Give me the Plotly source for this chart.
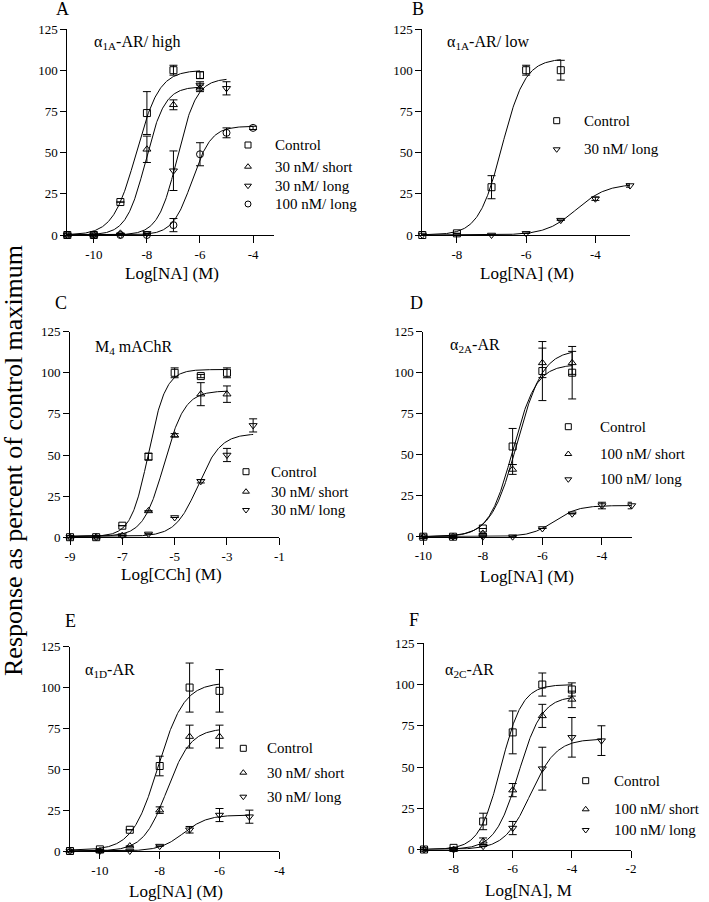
import numpy as np
import plotly.graph_objects as go

W, H = 709, 902
FONT = "Liberation Serif"

# ---------------- data ----------------
# Panel A  alpha1A-AR / high
A_ctrl_x = [-11, -10, -9, -8, -7, -6]
A_ctrl_y = [0, 0, 20, 74, 100, 97]
A_ctrl_e = [0, 0, 0, 13, 3, 2]
A_short_x = [-11, -10, -9, -8, -7, -6]
A_short_y = [0, 0, 1, 52, 79, 89]
A_short_e = [0, 0, 0, 8, 3, 2]
A_long_x = [-11, -10, -9, -8, -7, -6, -5]
A_long_y = [0, 0, 0, 1, 39, 91, 89]
A_long_e = [0, 0, 0, 0, 12, 2, 4]
A_l100_x = [-11, -10, -9, -8, -7, -6, -5, -4]
A_l100_y = [0, 0, 0, 0, 6, 49, 62, 65]
A_l100_e = [0, 0, 0, 0, 4, 7, 3, 1]
# fit parameters: bottom, top, logEC50, Hill slope
A_ctrl_fit = [0, 100, -8.4, 1.0]
A_short_fit = [0, 90, -8.05, 1.2]
A_long_fit = [0, 95, -6.85, 1.2]
A_l100_fit = [0, 66, -6.3, 1.2]

# Panel B  alpha1A-AR / low
B_ctrl_x = [-9, -8, -7, -6, -5]
B_ctrl_y = [0, 1, 29, 100, 100]
B_ctrl_e = [0, 0, 7, 3, 6]
B_long_x = [-9, -7, -6, -5, -4, -3]
B_long_y = [0, 0, 1, 9, 22, 30]
B_long_e = [0, 0, 0, 0, 1, 1]
B_ctrl_fit = [0, 107, -6.7, 1.3]
B_long_fit = [0, 31, -4.55, 1.0]

# Panel C  M4 mAChR
C_ctrl_x = [-9, -8, -7, -6, -5, -4, -3]
C_ctrl_y = [0, 0, 7, 49, 100, 98, 100]
C_ctrl_e = [0, 0, 0, 2, 3, 1, 3]
C_short_x = [-9, -8, -7, -6, -5, -4, -3]
C_short_y = [0, 0, 1, 16, 62, 87, 87]
C_short_e = [0, 0, 0, 0, 1, 7, 5]
C_long_x = [-9, -8, -7, -6, -5, -4, -3, -2]
C_long_y = [0, 0, 1, 2, 12, 34, 50, 68]
C_long_e = [0, 0, 0, 0, 0, 1, 4, 4]
C_ctrl_fit = [0.5, 102, -6.0, 1.3]
C_short_fit = [0.5, 89, -5.4, 1.1]
C_long_fit = [0.5, 63, -4.1, 1.0]

# Panel D  alpha2A-AR
D_ctrl_x = [-10, -9, -8, -7, -6, -5]
D_ctrl_y = [0, 0, 5, 55, 101, 100]
D_ctrl_e = [0, 0, 0, 11, 18, 16]
D_short_x = [-10, -9, -8, -7, -6, -5]
D_short_y = [0, 0, 2, 41, 106, 106]
D_short_e = [0, 0, 0, 3, 9, 7]
D_long_x = [-10, -9, -8, -7, -6, -5, -4, -3]
D_long_y = [0, 0, 0, 0, 5, 14, 19, 19]
D_long_e = [0, 0, 0, 0, 0, 0, 2, 2]
D_ctrl_fit = [0, 105, -7.0, 1.1]
D_short_fit = [0, 114, -6.85, 1.0]
D_long_fit = [0, 19, -5.6, 1.1]

# Panel E  alpha1D-AR
E_ctrl_x = [-11, -10, -9, -8, -7, -6]
E_ctrl_y = [0, 1, 13, 52, 100, 98]
E_ctrl_e = [0, 0, 0, 6, 15, 13]
E_short_x = [-11, -10, -9, -8, -7, -6]
E_short_y = [0, 0, 3, 25, 70, 70]
E_short_e = [0, 0, 0, 2, 7, 7]
E_long_x = [-11, -10, -9, -8, -7, -6, -5]
E_long_y = [0, 0, 0, 3, 13, 22, 21]
E_long_e = [0, 0, 0, 0, 2, 4, 4]
E_ctrl_fit = [0.5, 103, -8.05, 1.0]
E_short_fit = [0, 75, -7.75, 1.1]
E_long_fit = [0, 22, -7.2, 1.1]

# Panel F  alpha2C-AR
F_ctrl_x = [-9, -8, -7, -6, -5, -4]
F_ctrl_y = [0, 1, 17, 71, 100, 97]
F_ctrl_e = [0, 0, 5, 13, 7, 4]
F_short_x = [-9, -8, -7, -6, -5, -4]
F_short_y = [0, 0, 5, 36, 81, 91]
F_short_e = [0, 0, 2, 4, 7, 5]
F_long_x = [-9, -8, -7, -6, -5, -4, -3]
F_long_y = [0, 0, 2, 13, 49, 68, 66]
F_long_e = [0, 0, 0, 4, 13, 12, 9]
F_ctrl_fit = [0, 100, -6.4, 1.2]
F_short_fit = [0, 93, -5.8, 1.1]
F_long_fit = [0, 67, -5.4, 1.0]

Y_TICKS = [0, 25, 50, 75, 100, 125]

SYM = {"ctrl": "square-open", "short": "triangle-up-open",
       "long": "triangle-down-open", "l100": "circle-open"}

panels = [
    dict(letter="A", label="α<sub>1A</sub>-AR/ high", xtitle="Log[NA] (M)",
         xrange=[-11, -3.2], xticks=[-10, -8, -6, -4],
         series=[("ctrl", "Control", A_ctrl_x, A_ctrl_y, A_ctrl_e, A_ctrl_fit),
                 ("short", "30 nM/ short", A_short_x, A_short_y, A_short_e, A_short_fit),
                 ("long", "30 nM/ long", A_long_x, A_long_y, A_long_e, A_long_fit),
                 ("l100", "100 nM/ long", A_l100_x, A_l100_y, A_l100_e, A_l100_fit)]),
    dict(letter="B", label="α<sub>1A</sub>-AR/ low", xtitle="Log[NA] (M)",
         xrange=[-9, -3], xticks=[-8, -6, -4],
         series=[("ctrl", "Control", B_ctrl_x, B_ctrl_y, B_ctrl_e, B_ctrl_fit),
                 ("long", "30 nM/ long", B_long_x, B_long_y, B_long_e, B_long_fit)]),
    dict(letter="C", label="M<sub>4</sub> mAChR", xtitle="Log[CCh] (M)",
         xrange=[-9, -1], xticks=[-9, -7, -5, -3, -1],
         series=[("ctrl", "Control", C_ctrl_x, C_ctrl_y, C_ctrl_e, C_ctrl_fit),
                 ("short", "30 nM/ short", C_short_x, C_short_y, C_short_e, C_short_fit),
                 ("long", "30 nM/ long", C_long_x, C_long_y, C_long_e, C_long_fit)]),
    dict(letter="D", label="α<sub>2A</sub>-AR", xtitle="Log[NA] (M)",
         xrange=[-10, -3], xticks=[-10, -8, -6, -4],
         series=[("ctrl", "Control", D_ctrl_x, D_ctrl_y, D_ctrl_e, D_ctrl_fit),
                 ("short", "100 nM/ short", D_short_x, D_short_y, D_short_e, D_short_fit),
                 ("long", "100 nM/ long", D_long_x, D_long_y, D_long_e, D_long_fit)]),
    dict(letter="E", label="α<sub>1D</sub>-AR", xtitle="Log[NA] (M)",
         xrange=[-11, -4], xticks=[-10, -8, -6, -4],
         series=[("ctrl", "Control", E_ctrl_x, E_ctrl_y, E_ctrl_e, E_ctrl_fit),
                 ("short", "30 nM/ short", E_short_x, E_short_y, E_short_e, E_short_fit),
                 ("long", "30 nM/ long", E_long_x, E_long_y, E_long_e, E_long_fit)]),
    dict(letter="F", label="α<sub>2C</sub>-AR", xtitle="Log[NA], M",
         xrange=[-9, -2], xticks=[-8, -6, -4, -2],
         series=[("ctrl", "Control", F_ctrl_x, F_ctrl_y, F_ctrl_e, F_ctrl_fit),
                 ("short", "100 nM/ short", F_short_x, F_short_y, F_short_e, F_short_fit),
                 ("long", "100 nM/ long", F_long_x, F_long_y, F_long_e, F_long_fit)]),
]

# ---------------- layout constants (window pixels) ----------------
# plot area: left, right, top, bottom
BOX = [(67.3, 274.3, 29, 235), (422.3, 630, 29, 235),
       (70, 279.3, 331.7, 537.2), (423.3, 631.7, 331.7, 536.7),
       (70, 279.3, 646.7, 851), (424, 631, 643.3, 849.5)]
LETTER_POS = [(62, 9), (418, 9), (61, 303), (416, 303), (70, 621), (414, 620)]
LABEL_POS = [(92, 43), (445, 43), (93, 348), (448, 345), (83, 670), (443, 670)]
XTITLE_POS = [(171.7, 274), (526.7, 274), (171.7, 574), (527, 576), (175.8, 891), (528.3, 890)]
# legend: marker x, text x, row y's
LEG = [(248, 273, [145, 166.7, 185.7, 204]),
       (556.7, 581.7, [120.7, 149.3]),
       (246, 269, [471.7, 491.7, 510]),
       (568.3, 597.7, [426.7, 454, 479.3]),
       (243.3, 265, [748.3, 772.7, 796.7]),
       (585.7, 611.7, [780.7, 809.3, 830])]


def px(x):
    return x / W


def py(y):
    return 1 - y / H


def hill(x, p):
    b, t, ec, h = p
    return b + (t - b) / (1 + 10 ** ((ec - x) * h))


fig = go.Figure()
layout = dict(template="none", width=W, height=H, autosize=False,
              margin=dict(l=0, r=0, t=0, b=0, pad=0),
              paper_bgcolor="white", plot_bgcolor="rgba(0,0,0,0)",
              showlegend=False, font=dict(family=FONT, color="black"))
annotations = []

for i, p in enumerate(panels):
    n = i + 1
    xa = "x" if n == 1 else f"x{n}"
    ya = "y" if n == 1 else f"y{n}"
    l, r, t, b = BOX[i]
    layout["xaxis" if n == 1 else f"xaxis{n}"] = dict(
        domain=[px(l), px(r)], anchor=ya, range=p["xrange"], automargin=False,
        tickvals=p["xticks"], ticktext=[str(v) for v in p["xticks"]],
        showline=True, linecolor="black", linewidth=1, ticks="outside",
        ticklen=7, tickwidth=1, tickcolor="black", showgrid=False, zeroline=False,
        tickfont=dict(family=FONT, size=13, color="black"), fixedrange=True)
    layout["yaxis" if n == 1 else f"yaxis{n}"] = dict(
        domain=[py(b), py(t)], anchor=xa, range=[0, 125], automargin=False,
        tickvals=Y_TICKS, showline=True, linecolor="black", linewidth=1,
        ticks="outside", ticklen=6, tickwidth=1, tickcolor="black",
        showgrid=False, zeroline=False,
        tickfont=dict(family=FONT, size=13, color="black"), fixedrange=True)

    for key, name, xs, ys, es, fit in p["series"]:
        xc = np.linspace(min(xs), max(xs), 300)
        fig.add_trace(go.Scatter(x=xc, y=hill(xc, fit), mode="lines",
                                 line=dict(color="black", width=1),
                                 xaxis=xa, yaxis=ya, hoverinfo="skip",
                                 cliponaxis=False))
        fig.add_trace(go.Scatter(
            x=xs, y=ys, mode="markers", name=name, xaxis=xa, yaxis=ya,
            marker=dict(symbol=SYM[key], size=7, color="black",
                        line=dict(width=1, color="black")),
            error_y=dict(type="data", array=es, visible=True, color="black",
                         thickness=1, width=4),
            cliponaxis=False))

    # legend (markers on a full-page pixel overlay, text as annotations)
    mx, tx, rows = LEG[i]
    for (key, name, *_), ry in zip(p["series"], rows):
        fig.add_trace(go.Scatter(
            x=[mx], y=[ry], mode="markers", xaxis="x7", yaxis="y7",
            marker=dict(symbol=SYM[key], size=6, color="black",
                        line=dict(width=1, color="black")),
            hoverinfo="skip", cliponaxis=False))
        annotations.append(dict(x=px(tx), y=py(ry), xref="paper", yref="paper",
                                text=name, showarrow=False, xanchor="left",
                                yanchor="middle", font=dict(family=FONT, size=15)))

    lx, ly = LETTER_POS[i]
    annotations.append(dict(x=px(lx), y=py(ly), xref="paper", yref="paper",
                            text=p["letter"], showarrow=False, xanchor="center",
                            yanchor="middle", font=dict(family=FONT, size=18)))
    bx, by = LABEL_POS[i]
    annotations.append(dict(x=px(bx), y=py(by), xref="paper", yref="paper",
                            text=p["label"], showarrow=False, xanchor="left",
                            yanchor="middle", font=dict(family=FONT, size=16)))
    qx, qy = XTITLE_POS[i]
    annotations.append(dict(x=px(qx), y=py(qy), xref="paper", yref="paper",
                            text=p["xtitle"], showarrow=False, xanchor="center",
                            yanchor="middle", font=dict(family=FONT, size=17)))

annotations.append(dict(x=px(13), y=py(461), xref="paper", yref="paper",
                        text="Response as percent of control maximum",
                        showarrow=False, textangle=-90, xanchor="center",
                        yanchor="middle", font=dict(family=FONT, size=26)))

layout["xaxis7"] = dict(domain=[0, 1], range=[0, W], visible=False,
                        anchor="y7", fixedrange=True, automargin=False)
layout["yaxis7"] = dict(domain=[0, 1], range=[H, 0], visible=False,
                        anchor="x7", fixedrange=True, automargin=False)
layout["annotations"] = annotations
fig.update_layout(**layout)
fig.write_html("out.html", config={"displayModeBar": False},
               post_script="document.body.style.margin='0';"
                           "document.body.style.overflow='hidden';")
